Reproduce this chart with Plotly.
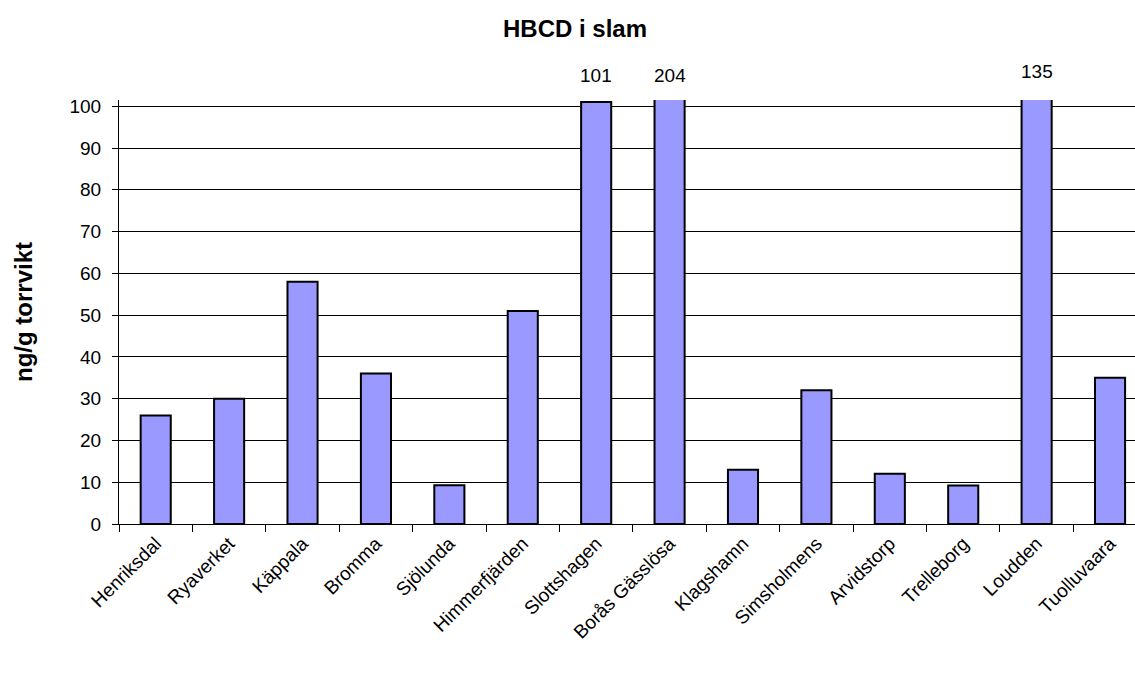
import plotly.graph_objects as go

# HBCD i slam — halter per reningsverk (ng/g torrvikt)
verk = ["Henriksdal", "Ryaverket", "Käppala", "Bromma", "Sjölunda",
        "Himmerfjärden", "Slottshagen", "Borås Gässlösa", "Klagshamn",
        "Simsholmens", "Arvidstorp", "Trelleborg", "Loudden", "Tuolluvaara"]
hbcd = [26, 30, 58, 36, 9.3, 51, 101, 204, 13, 32, 12, 9.2, 135, 35]

y_max_axis = 100
y_ticks = list(range(0, 101, 10))

FONT = "Liberation Sans, Arial, sans-serif"
TICK_SIZE = 19

fig = go.Figure()
fig.add_trace(go.Bar(
    x=verk,
    y=hbcd,
    marker=dict(color="#9999FF", line=dict(color="black", width=2)),
    width=0.41,
    cliponaxis=True,
    hoverinfo="x+y",
))

# values above the axis maximum are written above the clipped bars
label_shift = {"Loudden": 29}
for name, v in zip(verk, hbcd):
    if v > y_max_axis:
        fig.add_annotation(
            x=name, y=1, yref="paper", xref="x",
            text=str(v), showarrow=False,
            yanchor="middle", yshift=label_shift.get(name, 25),
            font=dict(family=FONT, size=TICK_SIZE, color="black"),
        )

fig.update_layout(
    width=1135, height=684,
    margin=dict(l=119, r=0, t=100, b=160),
    paper_bgcolor="white", plot_bgcolor="white",
    showlegend=False,
    font=dict(family=FONT, size=TICK_SIZE, color="black"),
    title=dict(
        text="<b>HBCD i slam</b>",
        x=575 / 1135, xref="container", xanchor="center",
        y=1 - 29 / 684, yref="container", yanchor="middle",
        font=dict(family=FONT, size=24, color="black"),
    ),
    xaxis=dict(
        type="category",
        range=[-0.5, 13.34],
        tickson="boundaries",
        ticks="outside", ticklen=7, tickcolor="black", tickwidth=1,
        tickangle=-45,
        showline=True, linecolor="black", linewidth=1,
        showgrid=False,
        tickfont=dict(family=FONT, size=TICK_SIZE, color="black"),
    ),
    yaxis=dict(
        range=[0, 101.5],
        tickvals=y_ticks,
        ticks="outside", ticklen=6, tickcolor="black", tickwidth=1,
        ticklabelstandoff=7,
        showline=True, linecolor="black", linewidth=1,
        showgrid=True, gridcolor="black", gridwidth=1,
        zeroline=False,
        tickfont=dict(family=FONT, size=TICK_SIZE, color="black"),
        title=dict(
            text="<b>ng/g torrvikt</b>",
            font=dict(family=FONT, size=24, color="black"),
            standoff=30,
        ),
    ),
)

fig.write_html("out.html")
